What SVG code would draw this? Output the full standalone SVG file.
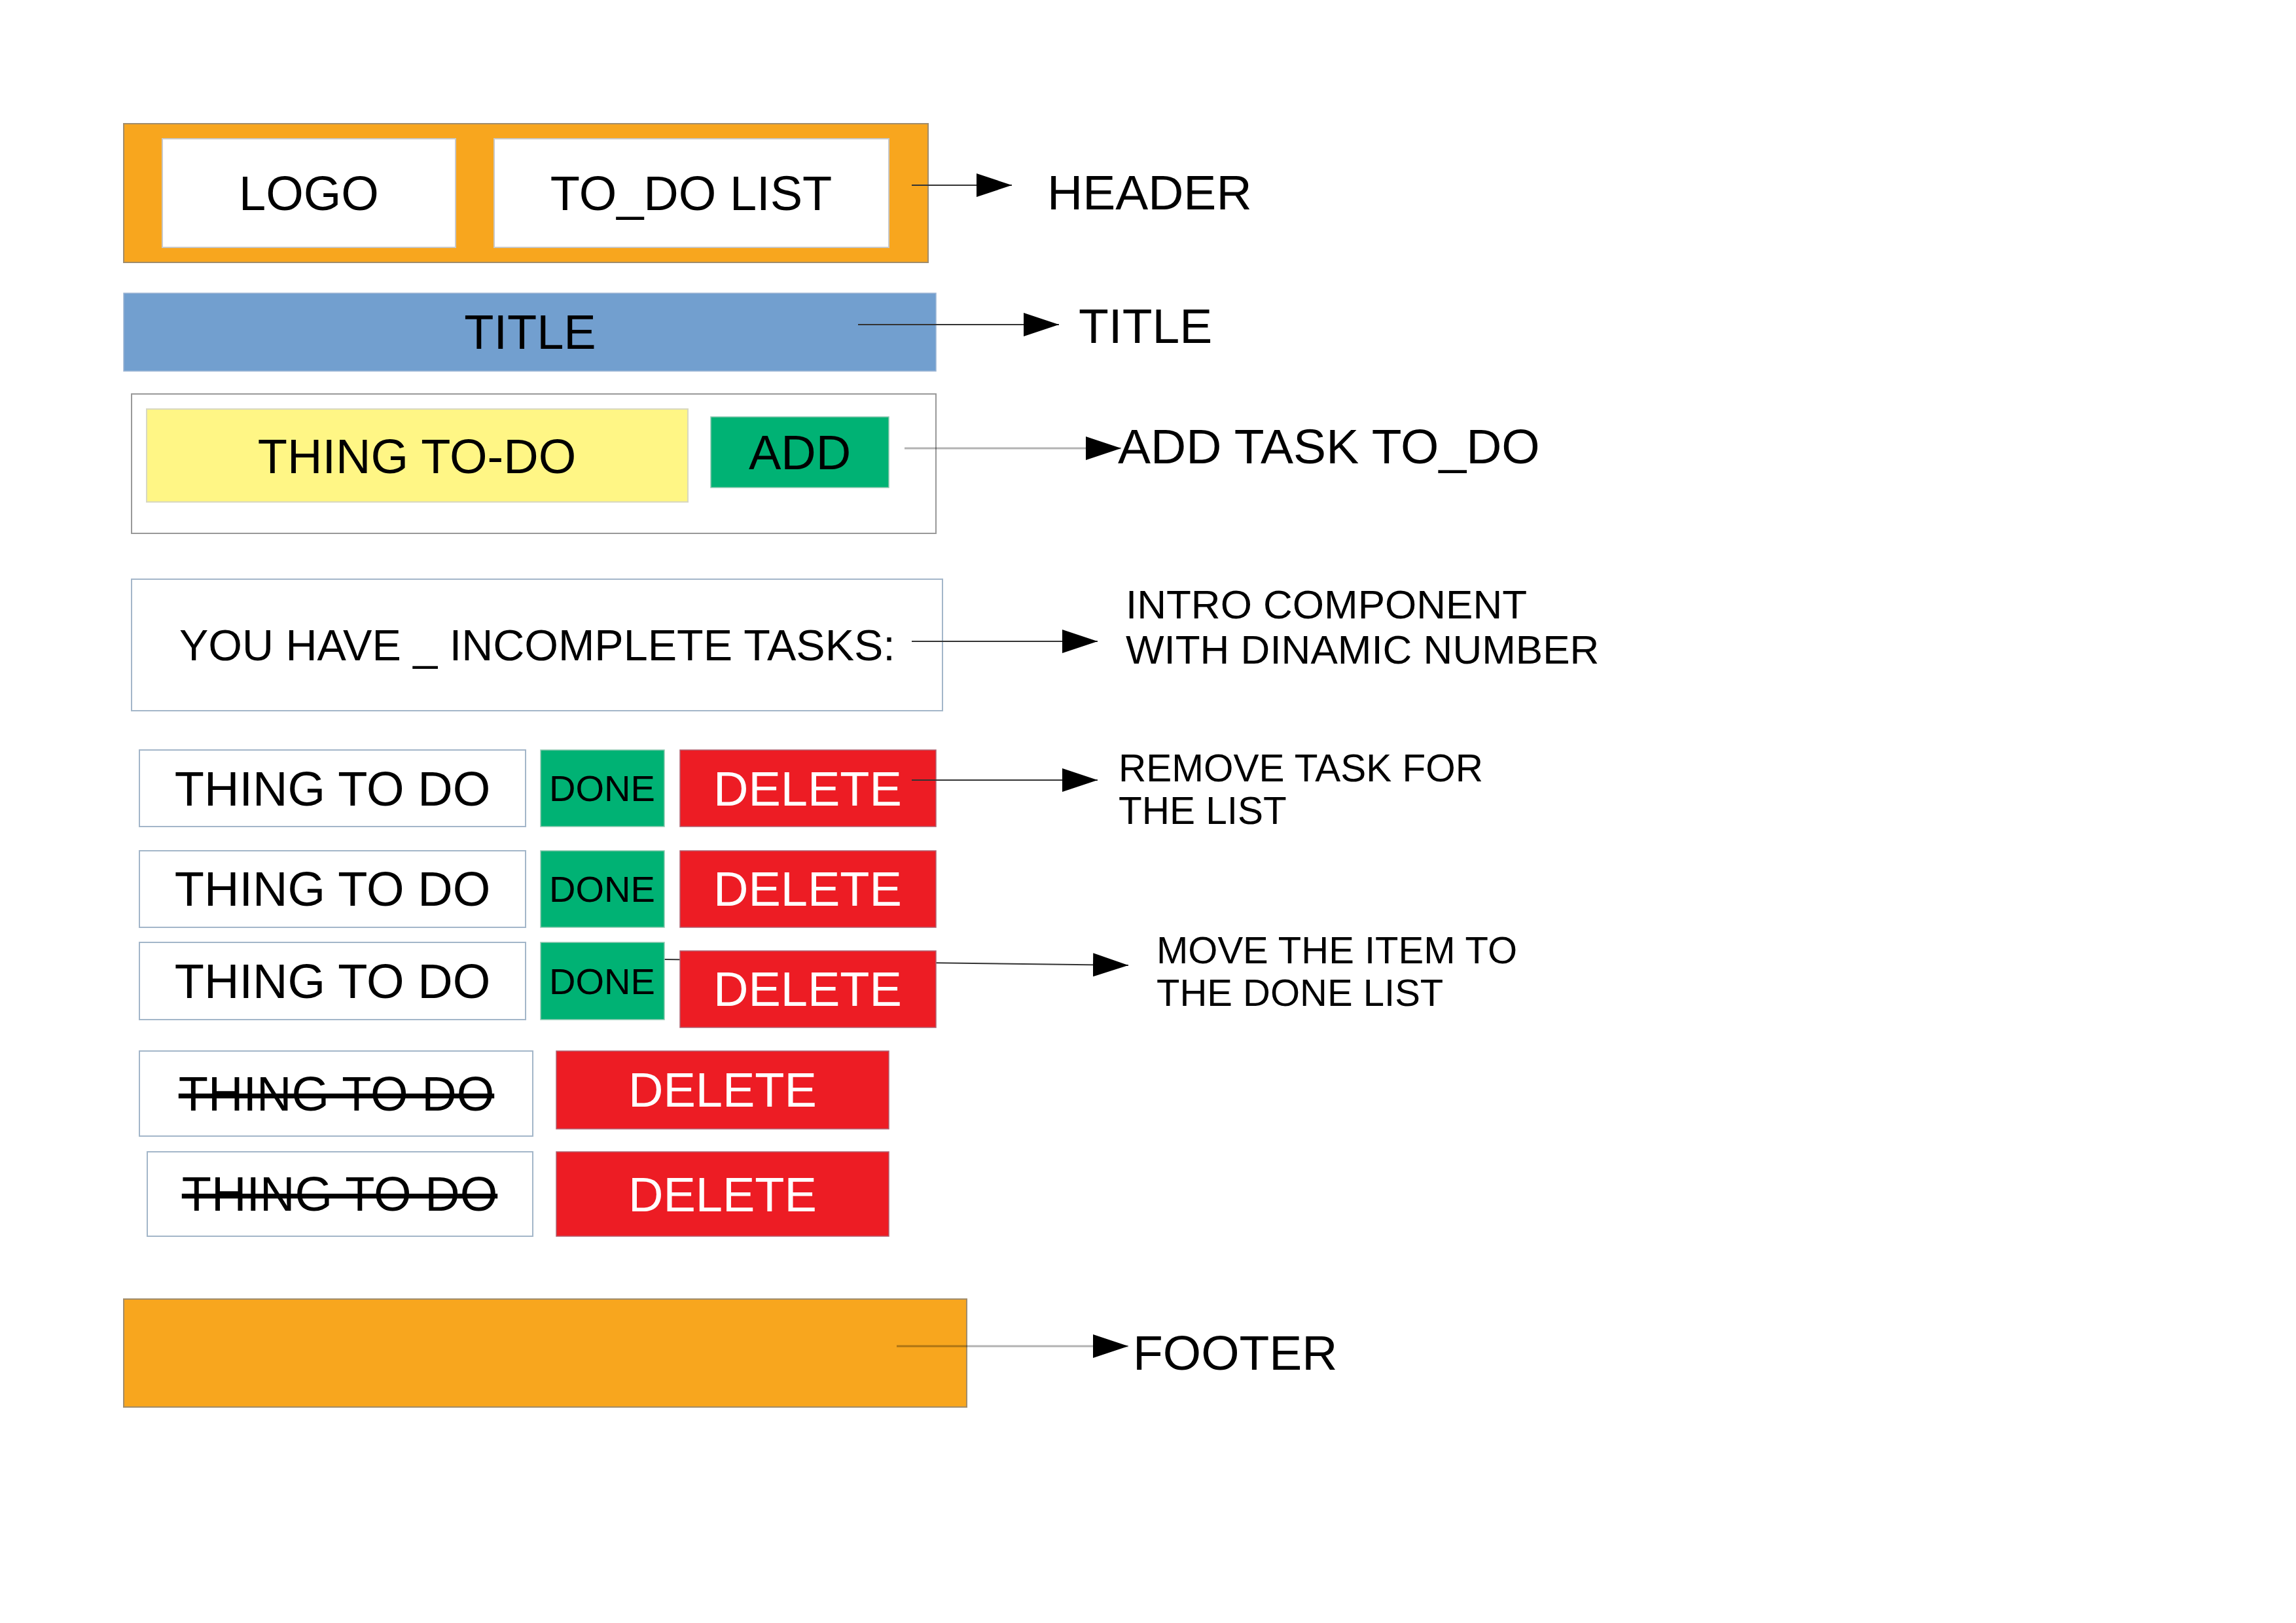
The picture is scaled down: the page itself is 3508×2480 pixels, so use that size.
<svg xmlns="http://www.w3.org/2000/svg" width="3508" height="2480" viewBox="0 0 3508 2480">
<defs>
<style>
text{font-family:"Liberation Sans",Arial,sans-serif;fill:#000}
.c{text-anchor:middle}
.big{font-size:74px}
.mid{font-size:66.5px}
.sm{font-size:56px}
.lab{font-size:75px}
.w{fill:#fff}
.orange{fill:#F8A61E;stroke:#a08c6c;stroke-width:2}
.card{fill:#fff;stroke:#a3b6c9;stroke-width:2}
.green{fill:#00B274;stroke:#8fc8b0;stroke-width:1.5}
.red{fill:#ED1C24;stroke:#b06070;stroke-width:1.5}
.strike{text-decoration:line-through}
.ln{stroke:#333;stroke-width:2;fill:none}
.lg{stroke:#000;stroke-opacity:0.3;stroke-width:3;fill:none}
</style>
<marker id="ah" markerUnits="userSpaceOnUse" markerWidth="54" markerHeight="36" refX="54" refY="18" orient="auto">
<path d="M0,0 L54,18 L0,36 Z" fill="#000"/>
</marker>
</defs>
<rect width="3508" height="2480" fill="#fff"/>

<g id="header">
<rect class="orange" x="189" y="189" width="1229" height="212"/>
<rect class="card" x="248" y="212" width="448" height="166" style="stroke:#c8c8c8"/>
<text class="big c" x="472" y="321">LOGO</text>
<rect class="card" x="755" y="212" width="603" height="166" style="stroke:#c8c8c8"/>
<text class="big c" x="1056" y="321">TO_DO LIST</text>
</g>

<g id="title">
<rect x="189" y="448" width="1241" height="119" fill="#729FCF" stroke="#9ab4d4" stroke-width="1.5"/>
<text class="big c" x="810" y="533">TITLE</text>
</g>

<g id="add-form">
<rect x="201" y="602" width="1229" height="213" fill="#fff" stroke="#999" stroke-width="2"/>
<rect x="224" y="625" width="827" height="142" fill="#FFF685" stroke="#d8d8c0" stroke-width="2"/>
<text class="big c" x="637" y="723">THING TO-DO</text>
<rect class="green" x="1086" y="637" width="272" height="108"/>
<text class="big c" x="1222" y="717">ADD</text>
</g>

<g id="intro">
<rect class="card" x="201" y="885" width="1239" height="201"/>
<text class="mid" x="274" y="1009">YOU HAVE _ INCOMPLETE TASKS:</text>
</g>

<g id="connectors">
<line class="ln" x1="1393" y1="283" x2="1546" y2="283" marker-end="url(#ah)"/>
<line class="ln" x1="1311" y1="496" x2="1618" y2="496" marker-end="url(#ah)"/>
<line class="lg" x1="1382" y1="685" x2="1713" y2="685" marker-end="url(#ah)"/>
<line class="ln" x1="1393" y1="980" x2="1677" y2="980" marker-end="url(#ah)"/>
<line class="ln" x1="1015" y1="1466" x2="1724" y2="1475" marker-end="url(#ah)"/>
</g>

<g id="task-1">
<rect class="card" x="213" y="1146" width="590" height="117"/>
<text class="big c" x="508" y="1231">THING TO DO</text>
<rect class="green" x="826" y="1146" width="189" height="117"/>
<text class="sm c" x="920" y="1224">DONE</text>
<rect class="red" x="1039" y="1146" width="391" height="117"/>
<text class="big c w" x="1234" y="1231">DELETE</text>
</g>

<g id="task-2">
<rect class="card" x="213" y="1300" width="590" height="117"/>
<text class="big c" x="508" y="1384">THING TO DO</text>
<rect class="green" x="826" y="1300" width="189" height="117"/>
<text class="sm c" x="920" y="1378">DONE</text>
<rect class="red" x="1039" y="1300" width="391" height="117"/>
<text class="big c w" x="1234" y="1384">DELETE</text>
</g>

<g id="task-3">
<rect class="card" x="213" y="1440" width="590" height="118"/>
<text class="big c" x="508" y="1525">THING TO DO</text>
<rect class="green" x="826" y="1440" width="189" height="118"/>
<text class="sm c" x="920" y="1519">DONE</text>
<rect class="red" x="1039" y="1453" width="391" height="117"/>
<text class="big c w" x="1234" y="1537">DELETE</text>
</g>

<g id="connectors-2">
<line class="ln" x1="1393" y1="1192" x2="1677" y2="1192" marker-end="url(#ah)"/>
</g>

<g id="done-1">
<rect class="card" x="213" y="1606" width="601" height="130"/>
<text class="big c strike" x="514" y="1697">THING TO DO</text>
<rect class="red" x="850" y="1606" width="508" height="119"/>
<text class="big c w" x="1104" y="1691">DELETE</text>
</g>

<g id="done-2">
<rect class="card" x="225" y="1760" width="589" height="129"/>
<text class="big c strike" x="519" y="1850">THING TO DO</text>
<rect class="red" x="850" y="1760" width="508" height="129"/>
<text class="big c w" x="1104" y="1851">DELETE</text>
</g>

<g id="footer">
<rect class="orange" x="189" y="1985" width="1288" height="165"/>
</g>
<g id="connectors-3">
<line class="lg" x1="1370" y1="2057" x2="1724" y2="2057" marker-end="url(#ah)"/>
</g>

<g id="labels">
<text class="lab" x="1600" y="320">HEADER</text>
<text class="lab" x="1648" y="524">TITLE</text>
<text class="lab" x="1708" y="708">ADD TASK TO_DO</text>
<text style="font-size:62px" x="1720" y="945">INTRO COMPONENT</text>
<text style="font-size:62px" x="1720" y="1014">WITH DINAMIC NUMBER</text>
<text style="font-size:58.5px" x="1709" y="1194">REMOVE TASK FOR</text>
<text style="font-size:58.5px" x="1709" y="1259">THE LIST</text>
<text style="font-size:58px" x="1767" y="1472">MOVE THE ITEM TO</text>
<text style="font-size:58px" x="1767" y="1537">THE DONE LIST</text>
<text class="lab" x="1731" y="2093">FOOTER</text>
</g>
</svg>
